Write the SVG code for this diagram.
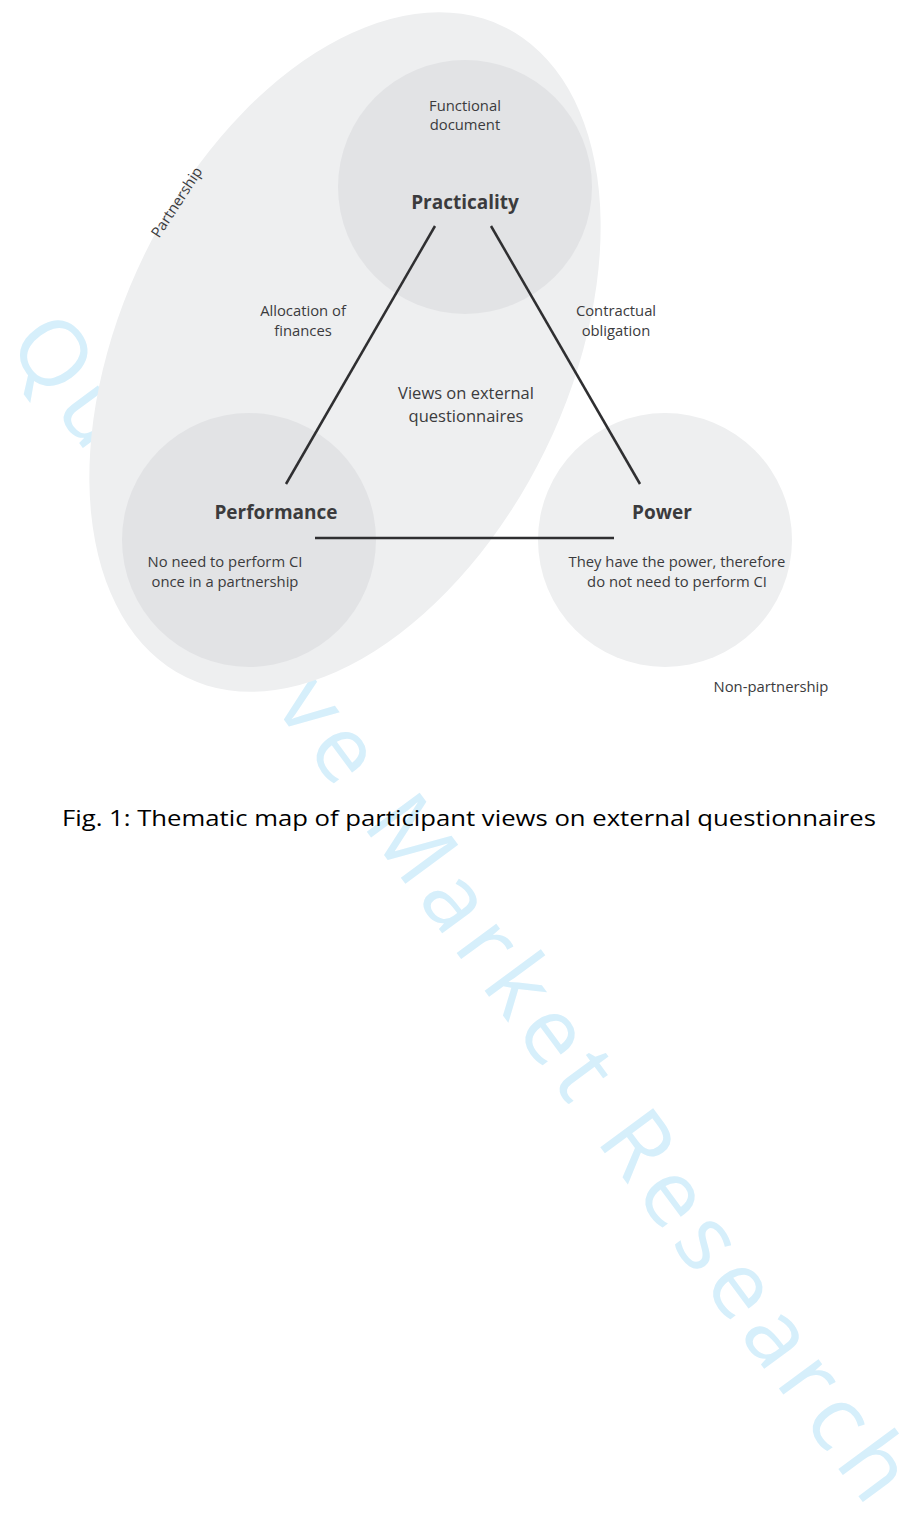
<svg xmlns="http://www.w3.org/2000/svg" width="921" height="1539" viewBox="0 0 921 1539">
<style>
.t{font-family:"Open Sans","Noto Sans",sans-serif;fill:#3b3b3d;text-anchor:middle;font-size:14.8px}
.b{font-family:"Open Sans","Noto Sans",sans-serif;fill:#3b3b3d;text-anchor:middle;font-size:19px;font-weight:bold}
.l{font-family:"Open Sans","Noto Sans",sans-serif;fill:#3b3b3d;text-anchor:middle;font-size:16.5px}
.wm{font-family:"Open Sans","Noto Sans",sans-serif;fill:#d6effb;font-size:92px}
.cap{font-family:"Open Sans","Noto Sans",sans-serif;fill:#000;font-size:22px}
.edge{stroke:#2f2f31;stroke-width:2.5;fill:none}
</style>
<rect width="921" height="1539" fill="#fff"/>
<text class="wm" x="0" y="0" transform="translate(6 344) rotate(53.5)" textLength="1448" lengthAdjust="spacing">Qualitative Market Research</text>
<g id="partnership">
<ellipse cx="345" cy="352" rx="223" ry="362" transform="rotate(26 345 352)" fill="#eeeff0"/>
<text class="t" x="0" y="0" font-size="16.5" transform="translate(181 205) rotate(-57)">Partnership</text>
</g>
<g id="practicality">
<circle cx="465" cy="187" r="127" fill="#e2e3e5"/>
<text class="t" x="465" y="111">Functional</text>
<text class="t" x="465" y="130">document</text>
<text class="b" x="465" y="209">Practicality</text>
</g>
<g id="performance">
<circle cx="249" cy="540" r="127" fill="#e2e3e5"/>
<text class="b" x="276" y="519">Performance</text>
<text class="t" x="225" y="567">No need to perform CI</text>
<text class="t" x="225" y="587">once in a partnership</text>
</g>
<g id="power">
<circle cx="665" cy="540" r="127" fill="#eeeff0"/>
<text class="b" x="662" y="519">Power</text>
<text class="t" x="677" y="567">They have the power, therefore</text>
<text class="t" x="677" y="587">do not need to perform CI</text>
</g>
<g id="center">
<text class="l" x="466" y="399">Views on external</text>
<text class="l" x="466" y="422">questionnaires</text>
</g>
<g id="connectors">
<line class="edge" x1="435" y1="226" x2="286" y2="484"/>
<line class="edge" x1="491" y1="226" x2="640" y2="484"/>
<line class="edge" x1="315" y1="538" x2="614" y2="538"/>
<text class="t" x="303" y="316">Allocation of</text>
<text class="t" x="303" y="336">finances</text>
<text class="t" x="616" y="316">Contractual</text>
<text class="t" x="616" y="336">obligation</text>
</g>
<g id="non-partnership">
<text class="t" x="771" y="692" font-size="18">Non-partnership</text>
</g>
<text class="cap" x="62" y="826" textLength="814" lengthAdjust="spacingAndGlyphs">Fig. 1: Thematic map of participant views on external questionnaires</text>
</svg>
